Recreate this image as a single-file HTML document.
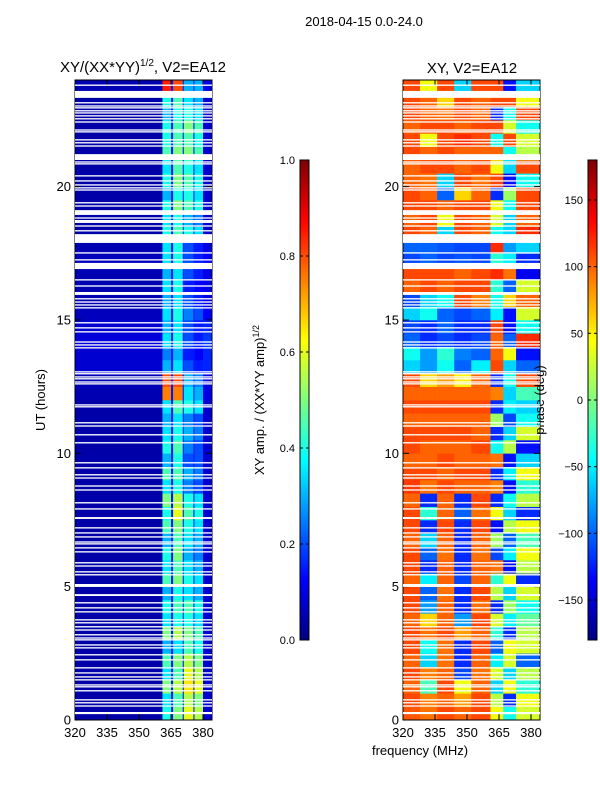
<!DOCTYPE html>
<html><head><meta charset="utf-8"><style>
html,body{margin:0;padding:0;background:#fff;}
svg{display:block;font-family:"Liberation Sans",sans-serif;}
</style></head><body>
<svg id="fig" width="600" height="800" viewBox="0 0 600 800">
<defs>
<linearGradient id="jet" x1="0" y1="1" x2="0" y2="0">
<stop offset="0" stop-color="#00007f"/><stop offset="0.125" stop-color="#0000ff"/><stop offset="0.375" stop-color="#00ffff"/><stop offset="0.625" stop-color="#ffff00"/><stop offset="0.875" stop-color="#ff0000"/><stop offset="1" stop-color="#7f0000"/>
</linearGradient>
</defs>
<text x="364" y="26" font-size="13" text-anchor="middle">2018-04-15 0.0-24.0</text>
<text x="143" y="72" font-size="15" text-anchor="middle">XY/(XX*YY)<tspan font-size="10" dy="-6">1/2</tspan><tspan dy="6">, V2=EA12</tspan></text>
<text x="472" y="73" font-size="15" text-anchor="middle">XY, V2=EA12</text>
<text transform="translate(45,400) rotate(-90)" font-size="13" text-anchor="middle">UT (hours)</text>
<text x="420" y="755" font-size="13" text-anchor="middle">frequency (MHz)</text>
<text transform="translate(264,400) rotate(-90)" font-size="13" text-anchor="middle">XY amp. / (XX*YY amp)<tspan font-size="9" dy="-5">1/2</tspan></text>
<g id="left"></g>
<g id="right"></g>
<g id="axes"></g>
<text transform="translate(544,400) rotate(-90)" font-size="13" text-anchor="middle">phase (deg)</text>
</svg>
<script>
const freqTicks=[320,335,350,365,380];
const timeTicks=[0,5,10,15,20];
const ampTicks=[0.0,0.2,0.4,0.6,0.8,1.0];
const phaseTicks=[-150,-100,-50,0,50,100,150];
const ampBase=[0.04,0.04,0.04,0.04,0.04,0.04,0.04,0.04,0.04,0.04,0.04,0.04,0.04,0.04,0.04,0.04,0.04,0.04,0.04,0.04,0.04,0.04,0.04,0.04,0.05,0.05,0.08,0.08,0.09,0.08,0.06,0.05,0.05,0.05,0.06,0.05,0.04,0.04,0.04,0.04,0.04,0.04,0.04,0.04,0.04,0.04,0.04,0.05];
const bandA=[0.4,0.35,0.5,0.35,0.45,0.3,0.5,0.35,0.4,0.3,0.45,0.35,0.4,0.3,0.45,0.4,0.5,0.35,0.45,0.3,0.4,0.35,0.3,0.35,0.75,0.8,0.3,0.25,0.35,0.3,0.35,0.3,0.35,0.3,0.35,0.35,0.4,0.35,0.4,0.3,0.4,0.35,0.45,0.4,0.4,0.3,0.4,0.85];
const bandB=[0.5,0.45,0.55,0.45,0.5,0.35,0.55,0.4,0.45,0.4,0.5,0.45,0.5,0.45,0.5,0.6,0.55,0.4,0.45,0.4,0.45,0.4,0.35,0.45,0.75,0.8,0.35,0.3,0.4,0.35,0.4,0.35,0.4,0.35,0.4,0.4,0.45,0.4,0.5,0.4,0.5,0.45,0.5,0.45,0.45,0.4,0.45,0.8];
const bandC=[0.6,0.55,0.65,0.6,0.55,0.45,0.5,0.4,0.45,0.35,0.4,0.35,0.3,0.35,0.4,0.45,0.4,0.25,0.3,0.2,0.25,0.3,0.25,0.4,0.35,0.3,0.2,0.15,0.2,0.2,0.25,0.2,0.15,0.2,0.2,0.2,0.4,0.3,0.45,0.4,0.45,0.4,0.5,0.45,0.5,0.4,0.35,0.3];
const bandD=[0.55,0.5,0.6,0.55,0.5,0.4,0.45,0.35,0.4,0.3,0.35,0.3,0.25,0.3,0.35,0.4,0.35,0.2,0.25,0.2,0.2,0.25,0.2,0.35,0.3,0.25,0.15,0.12,0.15,0.15,0.2,0.15,0.12,0.15,0.15,0.15,0.35,0.25,0.4,0.35,0.4,0.35,0.45,0.4,0.45,0.35,0.3,0.3];
const ampGap=0.15;
const ampEdges=[320,361,365,366,370.5,371,375.5,376,380,384];
const phaseEdges=[320,328,336,344,352,361,367,373,384];
const phase=[
[105,95,110,100,110,40,-40,30],[110,90,100,80,110,20,-120,40],[100,-20,110,40,100,-60,40,-30],[110,90,100,-110,95,30,-60,20],
[100,-60,95,-120,100,-50,30,-100],[110,-40,95,-120,110,-100,40,30],[110,95,110,80,100,-30,-120,20],[100,60,100,-80,110,30,-50,-10],
[110,-80,100,-120,95,-120,10,-40],[110,-100,95,-120,110,20,-60,30],[100,-50,100,-110,100,-30,40,-120],[110,-120,100,-120,100,95,-130,20],
[110,-100,95,-120,95,-110,-50,40],[100,-60,100,-120,100,10,-100,-20],[110,-120,110,-120,110,-130,20,40],[110,-30,100,-100,95,40,-60,-120],
[100,-120,100,-120,110,-120,-40,20],[115,95,110,100,100,90,-130,-30],[110,110,100,110,110,-120,-50,40],[100,100,110,100,100,95,-130,-60],
[110,100,100,100,110,-40,20,-130],[110,110,110,110,100,-120,-60,30],[100,100,100,100,100,10,-110,-40],[110,110,110,110,110,-120,-50,-60],
[100,100,100,100,100,90,-60,-20],[110,60,80,50,100,-120,-40,110],[-60,-80,-40,-100,-50,110,-60,-100],[-40,-80,-30,-90,-100,100,40,-130],
[-100,-120,-110,-120,-110,100,-100,120],[-110,-120,-100,-120,-120,110,-130,-40],[-60,-40,-100,-110,-100,-50,-130,30],[-110,-60,-40,110,90,-40,60,100],
[100,110,100,110,110,-30,-100,30],[110,110,110,100,110,120,95,-140],[-110,-100,-110,-105,-110,-30,-50,-120],[-100,-100,-105,-110,-110,120,-80,-60],
[110,100,-60,110,100,-40,-60,120],[100,110,40,110,100,30,-60,100],[110,110,100,110,110,40,-40,110],[110,100,-100,60,100,-120,10,110],
[100,95,-60,110,95,110,-130,-40],[100,110,110,100,110,40,-60,110],[110,100,110,100,100,100,-40,20],[110,40,110,120,110,-40,110,30],
[100,110,110,100,110,110,30,-40],[110,100,95,110,100,-120,-40,110],[110,100,60,110,100,110,110,40],[110,40,110,-60,110,110,-130,-60]];
const flagStart=[23.78,23.33,23.12,23.0,22.93,22.82,22.74,22.63,22.52,22.4,22.1,22.03,21.73,21.62,21.5,21.0,20.9,20.83,20.38,20.19,20.04,19.93,19.85,19.37,19.25,18.94,18.8,18.64,18.5,18.32,17.89,17.49,17.23,16.91,16.48,16.25,15.94,15.77,15.65,15.54,15.43,14.87,14.68,14.53,14.15,14.04,13.93,13.03,12.96,12.84,12.77,12.65,12.58,11.79,11.72,11.12,11.0,10.67,10.37,9.62,9.43,9.17,9.05,8.75,8.6,8.12,7.89,7.54,7.18,6.99,6.84,6.65,6.58,6.43,6.28,5.87,5.75,5.53,5.42,4.99,4.65,4.37,4.18,4.03,3.73,3.62,3.47,3.35,3.17,3.05,2.98,2.79,2.68,2.42,2.23,1.93,1.74,1.59,1.48,1.29,1.22,1.07,0.73,0.62,0.5,0.22];
const flagEnd=[23.83,23.59,23.17,23.05,22.98,22.87,22.79,22.68,22.57,22.45,22.15,22.08,21.78,21.67,21.55,21.22,20.95,20.88,20.43,20.24,20.09,19.98,19.9,19.42,19.3,19.12,18.85,18.75,18.55,18.37,18.22,17.54,17.28,17.14,16.53,16.3,16.05,15.82,15.7,15.59,15.48,14.92,14.73,14.58,14.2,14.09,13.98,13.08,13.01,12.89,12.82,12.7,12.63,11.84,11.77,11.17,11.05,10.72,10.42,9.67,9.48,9.22,9.1,8.8,8.65,8.17,7.94,7.61,7.23,7.04,6.89,6.7,6.63,6.48,6.33,5.92,5.8,5.58,5.47,5.1,4.72,4.42,4.23,4.08,3.78,3.67,3.52,3.4,3.22,3.1,3.03,2.84,2.73,2.47,2.28,1.98,1.79,1.64,1.53,1.34,1.27,1.12,0.78,0.67,0.55,0.3];

const NS='http://www.w3.org/2000/svg';
const svg=document.getElementById('fig');
function el(tag,attrs,parent){const e=document.createElementNS(NS,tag);for(const k in attrs)e.setAttribute(k,attrs[k]);(parent||svg).appendChild(e);return e;}
function jet(t){t=Math.max(0,Math.min(1,t));const c=v=>Math.round(255*Math.max(0,Math.min(1,v)));return `rgb(${c(1.5-Math.abs(4*t-3))},${c(1.5-Math.abs(4*t-2))},${c(1.5-Math.abs(4*t-1))})`;}
const Y0=720,Y1=80;
const yScale=h=>Y0-(h/24)*(Y0-Y1);
const xLeft=f=>75+(f-320)*(32/15);
const xRight=f=>403+(f-320)*(32/15);
const nRows=ampBase.length;

const gL=document.getElementById('left');
for(let r=0;r<nRows;r++){
  const vals=[ampBase[r],bandA[r],ampGap,bandB[r],ampGap,bandC[r],ampGap,bandD[r],ampBase[r]*2];
  for(let c=0;c<vals.length;c++){
    const x0=xLeft(ampEdges[c]),x1=xLeft(ampEdges[c+1]);
    const yT=yScale((r+1)*24/nRows),yB=yScale(r*24/nRows);
    const rc=el('rect',{x:x0,y:yT,width:x1-x0+0.3,height:yB-yT+0.3,fill:jet(vals[c])},gL);
    
    
  }
}
const gR=document.getElementById('right');
for(let r=0;r<phase.length;r++){
  for(let c=0;c<phase[r].length;c++){
    const x0=xRight(phaseEdges[c]),x1=xRight(phaseEdges[c+1]);
    const yT=yScale((r+1)*24/phase.length),yB=yScale(r*24/phase.length);
    const rc=el('rect',{x:x0,y:yT,width:x1-x0+0.3,height:yB-yT+0.3,fill:jet((phase[r][c]+180)/360)},gR);
    
    
  }
}
for(let i=0;i<flagStart.length;i++){
  const yT=yScale(flagEnd[i]),yB=yScale(flagStart[i]);
  [[75,137],[403,137]].forEach(([x,w])=>{
    const f=el('rect',{x:x,y:yT,width:w,height:Math.max(1.2,yB-yT),fill:'#fff'});
    
    
  });
}
const gA=document.getElementById('axes');
function axesFrame(x0,xs,name){
  const fr=el('rect',{x:x0,y:80,width:137,height:640,fill:'none',stroke:'#000','stroke-width':1},gA);
  
  
  freqTicks.forEach(f=>{const x=xs(f);
    el('line',{x1:x,y1:720,x2:x,y2:714,stroke:'#000'},gA);el('line',{x1:x,y1:80,x2:x,y2:86,stroke:'#000'},gA);
    const t=el('text',{x:x,y:737,'font-size':13,'text-anchor':'middle'},gA);t.textContent=f;
    
    });
  timeTicks.forEach(h=>{const y=yScale(h);
    el('line',{x1:x0,y1:y,x2:x0+6,y2:y,stroke:'#000'},gA);el('line',{x1:x0+137,y1:y,x2:x0+131,y2:y,stroke:'#000'},gA);
    const t=el('text',{x:x0-4,y:y+4.5,'font-size':13,'text-anchor':'end'},gA);t.textContent=h;
    
    });
}
axesFrame(75,xLeft,'left-axes');
axesFrame(403,xRight,'right-axes');
function colorbar(x,ticks,lo,hi,fmt,name){
  const cb=el('rect',{x:x,y:160,width:9,height:480,fill:'url(#jet)',stroke:'#000'},gA);
  
  
  ticks.forEach(v=>{const y=640-(v-lo)/(hi-lo)*480;
    el('line',{x1:x,y1:y,x2:x+3,y2:y,stroke:'#000'},gA);el('line',{x1:x+9,y1:y,x2:x+6,y2:y,stroke:'#000'},gA);
    const t=el('text',{x:x-5,y:y+4,'font-size':11,'text-anchor':'end'},gA);t.textContent=fmt(v);
    
    });
}
colorbar(300,ampTicks,0,1,v=>v.toFixed(1),'amp-colorbar');
colorbar(588,phaseTicks,-180,180,v=>v<0?'\u2212'+(-v):String(v),'phase-colorbar');
</script>
</body></html>
